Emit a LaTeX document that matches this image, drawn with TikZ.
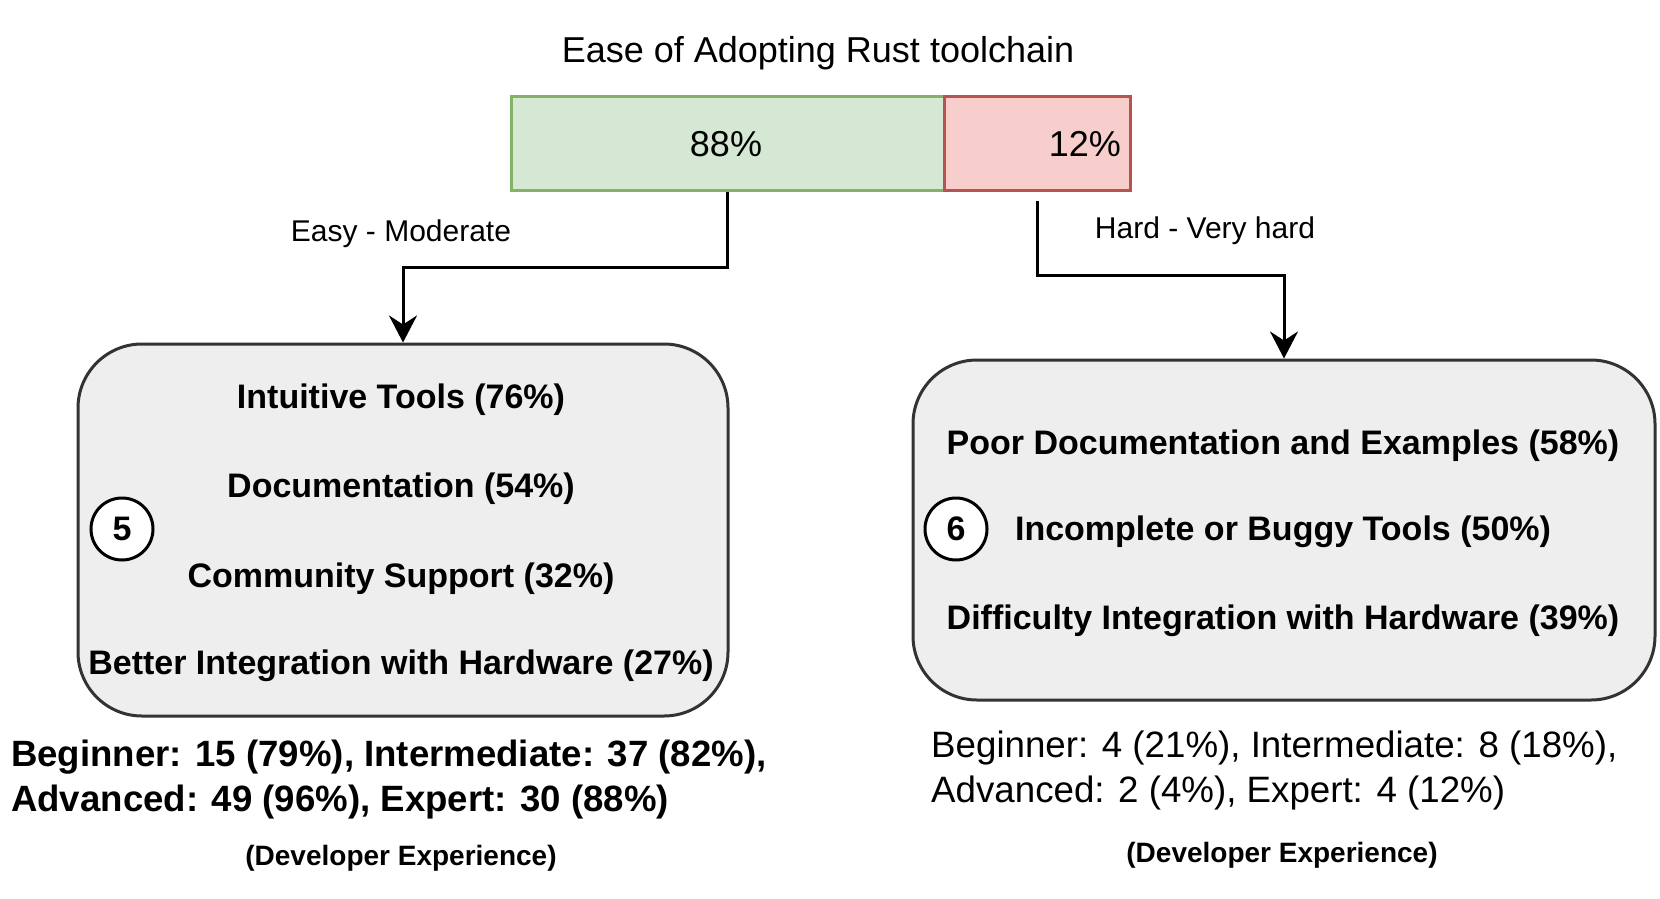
\documentclass[tikz,border=0pt]{standalone}
\usepackage{fontspec}
\setmainfont{Liberation Sans}
\usetikzlibrary{arrows.meta}
\definecolor{gfill}{HTML}{D5E8D4}
\definecolor{gline}{HTML}{82B366}
\definecolor{rfill}{HTML}{F8CECC}
\definecolor{rline}{HTML}{B85450}
\definecolor{boxfill}{HTML}{EEEEEE}
\definecolor{boxline}{HTML}{333333}
\begin{document}
\begin{tikzpicture}[x=1pt,y=-1pt,
  barbox/.style={draw, line width=3pt, minimum height=94pt, inner sep=0pt},
  panel/.style={draw=boxline, fill=boxfill, line width=3pt, rounded corners=64pt, inner sep=0pt},
  item/.style={font=\fontsize{34}{40}\selectfont\bfseries, inner sep=0pt},
  numcirc/.style={circle, draw=black, fill=white, line width=3pt, minimum size=62pt, inner sep=0pt, font=\fontsize{34}{40}\selectfont\bfseries},
  lbl/.style={font=\fontsize{30}{36}\selectfont, inner sep=0pt},
  arr/.style={line width=3pt, -{Stealth[length=27pt,width=28pt,inset=9pt]}},
  stats/.style={align=left, inner sep=0pt, anchor=west},
  devexp/.style={font=\fontsize{28}{34}\selectfont\bfseries, inner sep=0pt}
]
\useasboundingbox (0,0) rectangle (1660,899);

\node[font=\fontsize{36}{43}\selectfont, inner sep=0pt] (title) at (818,53) {Ease of Adopting Rust toolchain};

\node[barbox, draw=gline, fill=gfill, minimum width=433pt] (green) at (727.5,143) {};
\node[font=\fontsize{36}{43}\selectfont, inner sep=0pt] (greenlbl) at (726,144) {88\%};
\node[barbox, draw=rline, fill=rfill, minimum width=186pt] (red) at (1037,143) {};
\node[font=\fontsize{36}{43}\selectfont, inner sep=0pt, anchor=east] (redlbl) at (1121,144) {12\%};

\node[panel, minimum width=650pt, minimum height=372pt] (lbox) at (403,530) {};
\node[panel, minimum width=742pt, minimum height=340pt] (rbox) at (1284,530) {};

\draw[arr] (green.south) -- ++(0,76) -| (lbox.north);
\draw[arr] ([yshift=-9pt]red.south) -- ++(0,75) -| (rbox.north);

\node[lbl] (easy) at (401,234) {Easy - Moderate};
\node[lbl] (hard) at (1205,231) {Hard - Very hard};

\node[item] (l1) at (401,400) {Intuitive Tools (76\%)};
\node[item] (l2) at (401,489) {Documentation (54\%)};
\node[item] (l3) at (401,579) {Community Support (32\%)};
\node[item] (l4) at (401,666) {Better Integration with Hardware (27\%)};
\node[numcirc] (c5) at (122,529) {5};

\node[item] (r1) at (1283,446) {Poor Documentation and Examples (58\%)};
\node[item] (r2) at (1283,532) {Incomplete or Buggy Tools (50\%)};
\node[item] (r3) at (1283,621) {Difficulty Integration with Hardware (39\%)};
\node[numcirc] (c6) at (956,529) {6};

\node[stats, font=\fontsize{36.6}{45}\selectfont\bfseries] (lstats) at (11,779.5) {Beginner: 15 (79\%), Intermediate: 37 (82\%),\\Advanced: 49 (96\%), Expert: 30 (88\%)};
\node[stats, font=\fontsize{36.7}{45}\selectfont] (rstats) at (931,771) {Beginner: 4 (21\%), Intermediate: 8 (18\%),\\Advanced: 2 (4\%), Expert: 4 (12\%)};

\node[devexp] (ldev) at (401,858) {(Developer Experience)};
\node[devexp] (rdev) at (1282,855) {(Developer Experience)};
\end{tikzpicture}
\end{document}
